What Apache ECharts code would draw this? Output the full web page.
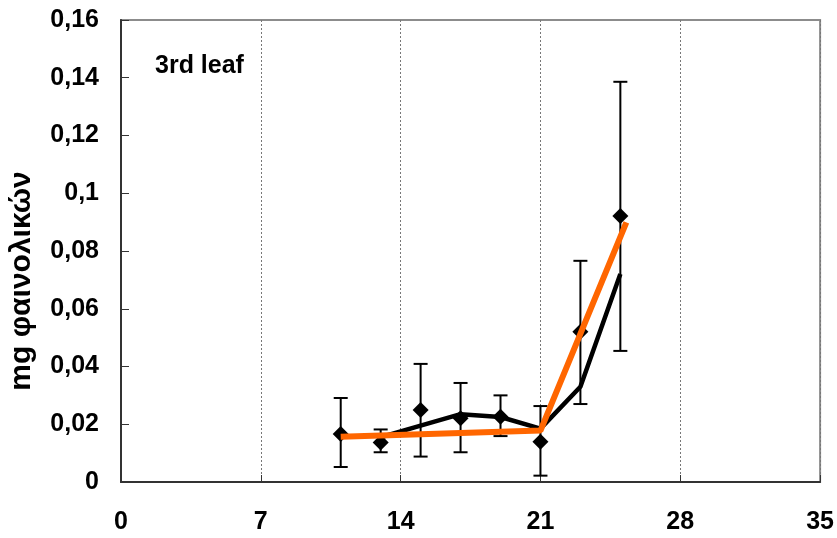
<!DOCTYPE html>
<html>
<head>
<meta charset="utf-8">
<script src="https://cdn.jsdelivr.net/npm/echarts@6/dist/echarts.min.js"></script>
<style>
    html, body { margin: 0; padding: 0; background: #fff; }
    #chartDiv { width: 837px; height: 538px; }
</style>
</head>
<body>
<div id="chartDiv"></div>
<script>
    // μετρήσεις (ημέρα, μέση τιμή, όρια σφάλματος)
    var days = [11, 13, 15, 17, 19, 21, 23, 25];
    var means = [0.0166, 0.0137, 0.0249, 0.0221, 0.0226, 0.0139, 0.052, 0.0921];
    var errLow = [0.0052, 0.0103, 0.0088, 0.0103, 0.0159, 0.0022, 0.027, 0.0454];
    var errHigh = [0.0291, 0.0182, 0.0409, 0.0343, 0.030, 0.0263, 0.0766, 0.1386];

    // μαύρη γραμμή (κινητός μέσος όρος)
    var avgDays = [13, 15, 17, 19, 21, 23, 25];
    var avgValues = [0.0155, 0.0195, 0.0235, 0.0225, 0.0185, 0.033, 0.072];

    // πορτοκαλί γραμμή
    var fitDays = [11, 21, 25.3];
    var fitValues = [0.0157, 0.0178, 0.0899];

    var xTicks = ['0', '7', '14', '21', '28', '35'];
    var yTicks = ['0', '0,02', '0,04', '0,06', '0,08', '0,1', '0,12', '0,14', '0,16'];

    var FONT = '"Liberation Sans", Arial, sans-serif';

    var pts = days.map(function (d, i) { return [d, means[i]]; });
    var errs = days.map(function (d, i) { return [d, errLow[i], errHigh[i]]; });
    var avg = avgDays.map(function (d, i) { return [d, avgValues[i]]; });
    var fit = fitDays.map(function (d, i) { return [d, fitValues[i]]; });

    var chart = echarts.init(document.getElementById('chartDiv'));
    chart.setOption({
        animation: false,
        grid: {
            left: 121, right: 16, top: 20, bottom: 56,
            show: true, borderColor: '#8c8c8c', borderWidth: 2, backgroundColor: '#fff'
        },
        xAxis: {
            type: 'value', min: 0, max: 35, interval: 7,
            axisLine: { lineStyle: { color: '#333', width: 2 } },
            axisTick: { inside: true, length: 7, lineStyle: { color: '#333', width: 1 } },
            splitLine: { show: true, lineStyle: { color: '#777', type: [2, 2], width: 1 } },
            axisLabel: {
                margin: 28, color: '#000', fontFamily: FONT, fontWeight: 'bold', fontSize: 25,
                formatter: function (v) { return xTicks[Math.round(v / 7)]; }
            }
        },
        yAxis: {
            type: 'value', min: 0, max: 0.16, interval: 0.02,
            axisLine: { show: true, lineStyle: { color: '#333', width: 2 } },
            axisTick: { show: true, inside: true, length: 8, lineStyle: { color: '#333', width: 1 } },
            splitLine: { show: false },
            axisLabel: {
                margin: 22, color: '#000', fontFamily: FONT, fontWeight: 'bold', fontSize: 25,
                formatter: function (v) { return yTicks[Math.round(v / 0.02)]; }
            }
        },
        graphic: [
            {
                type: 'text', left: 155, top: 54,
                style: { text: '3rd leaf', fill: '#000', font: 'bold 25px ' + FONT }
            },
            {
                type: 'text', x: 22, y: 281, rotation: Math.PI / 2,
                style: {
                    text: 'mg φαινολικών', fill: '#000', font: 'bold 30px ' + FONT,
                    align: 'center', verticalAlign: 'middle'
                }
            }
        ],
        series: [
            {
                type: 'custom',
                data: errs,
                z: 2,
                renderItem: function (params, api) {
                    var lo = api.coord([api.value(0), api.value(1)]);
                    var hi = api.coord([api.value(0), api.value(2)]);
                    var w = 7;
                    var st = { stroke: '#000', lineWidth: 2 };
                    return {
                        type: 'group',
                        children: [
                            { type: 'line', shape: { x1: lo[0], y1: lo[1], x2: hi[0], y2: hi[1] }, style: st },
                            { type: 'line', shape: { x1: lo[0] - w, y1: lo[1], x2: lo[0] + w, y2: lo[1] }, style: st },
                            { type: 'line', shape: { x1: hi[0] - w, y1: hi[1], x2: hi[0] + w, y2: hi[1] }, style: st }
                        ]
                    };
                }
            },
            {
                type: 'scatter', data: pts, z: 3,
                symbol: 'diamond', symbolSize: 16,
                itemStyle: { color: '#000', opacity: 1 }
            },
            {
                type: 'line', data: avg, z: 4,
                showSymbol: false, symbol: 'none',
                lineStyle: { color: '#000', width: 4.5 }
            },
            {
                type: 'line', data: fit, z: 5,
                showSymbol: false, symbol: 'none',
                lineStyle: { color: '#ff6600', width: 6 }
            }
        ]
    });
</script>
</body>
</html>
